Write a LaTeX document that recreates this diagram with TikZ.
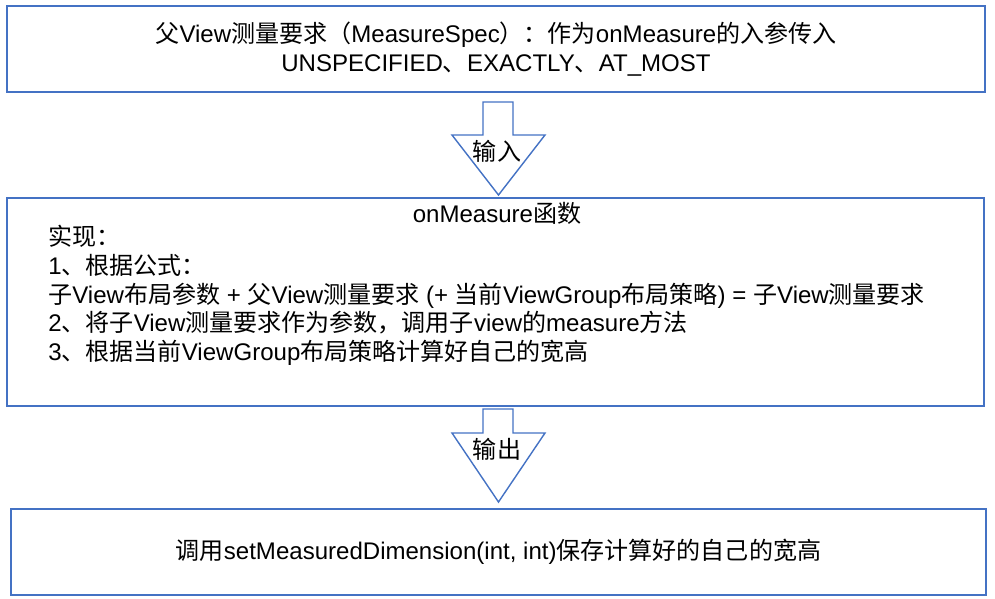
\documentclass[tikz,border=0pt]{standalone}
\usepackage{fontspec}
\setmainfont{Liberation Sans}
\newfontfamily\cjk{Noto Sans CJK SC}
\newcommand{\zh}[1]{{\cjk #1}}
\begin{document}
\begin{tikzpicture}[x=0.025cm,y=-0.025cm,
  every node/.style={font=\fontsize{17.1}{20.4}\selectfont},
  stagebox/.style={shape=rectangle,draw=flow_blue,line width=1pt,inner sep=0pt,minimum height=2.15cm},
  flowarrow/.style={draw=flow_blue,line width=1pt,fill=white,line join=miter}]
\definecolor{flow_blue}{RGB}{68,114,196}
\useasboundingbox (0,0) rectangle (995,599);

\node[stagebox,minimum width=24.45cm,align=center] (spec) at (496,49)
  {\zh{父}View\zh{测量要求（}MeasureSpec\zh{）：作为}onMeasure\zh{的入参传入}\\
   UNSPECIFIED\zh{、}EXACTLY\zh{、}AT\_MOST};
\node[stagebox,minimum width=24.425cm,minimum height=5.2cm] (measure) at (495.5,302) {};
\node[stagebox,minimum width=24.375cm] (result) at (498.5,552)
  {\zh{调用}setMeasuredDimension(int, int)\zh{保存计算好的自己的宽高}};

\node (title) at (497,213) {onMeasure\zh{函数}};
\node[anchor=north west,align=left,inner sep=0pt] (steps) at (48,225)
  {\zh{实现：}\\
   1\zh{、根据公式：}\\
   \zh{子}View\zh{布局参数} + \zh{父}View\zh{测量要求} (+ \zh{当前}ViewGroup\zh{布局策略}) = \zh{子}View\zh{测量要求}\\
   2\zh{、将子}View\zh{测量要求作为参数，调用子}view\zh{的}measure\zh{方法}\\
   3\zh{、根据当前}ViewGroup\zh{布局策略计算好自己的宽高}};

\draw[flowarrow] (483,102) -- (513,102) -- (513,135) -- (545,135) -- (498.5,195) -- (452,135) -- (483,135) -- cycle;
\node (input) at (497,151) {\zh{输入}};
\draw[flowarrow] (483,409) -- (513,409) -- (513,433) -- (545,433) -- (498.5,502) -- (452,433) -- (483,433) -- cycle;
\node (output) at (497,449) {\zh{输出}};
\end{tikzpicture}
\end{document}
